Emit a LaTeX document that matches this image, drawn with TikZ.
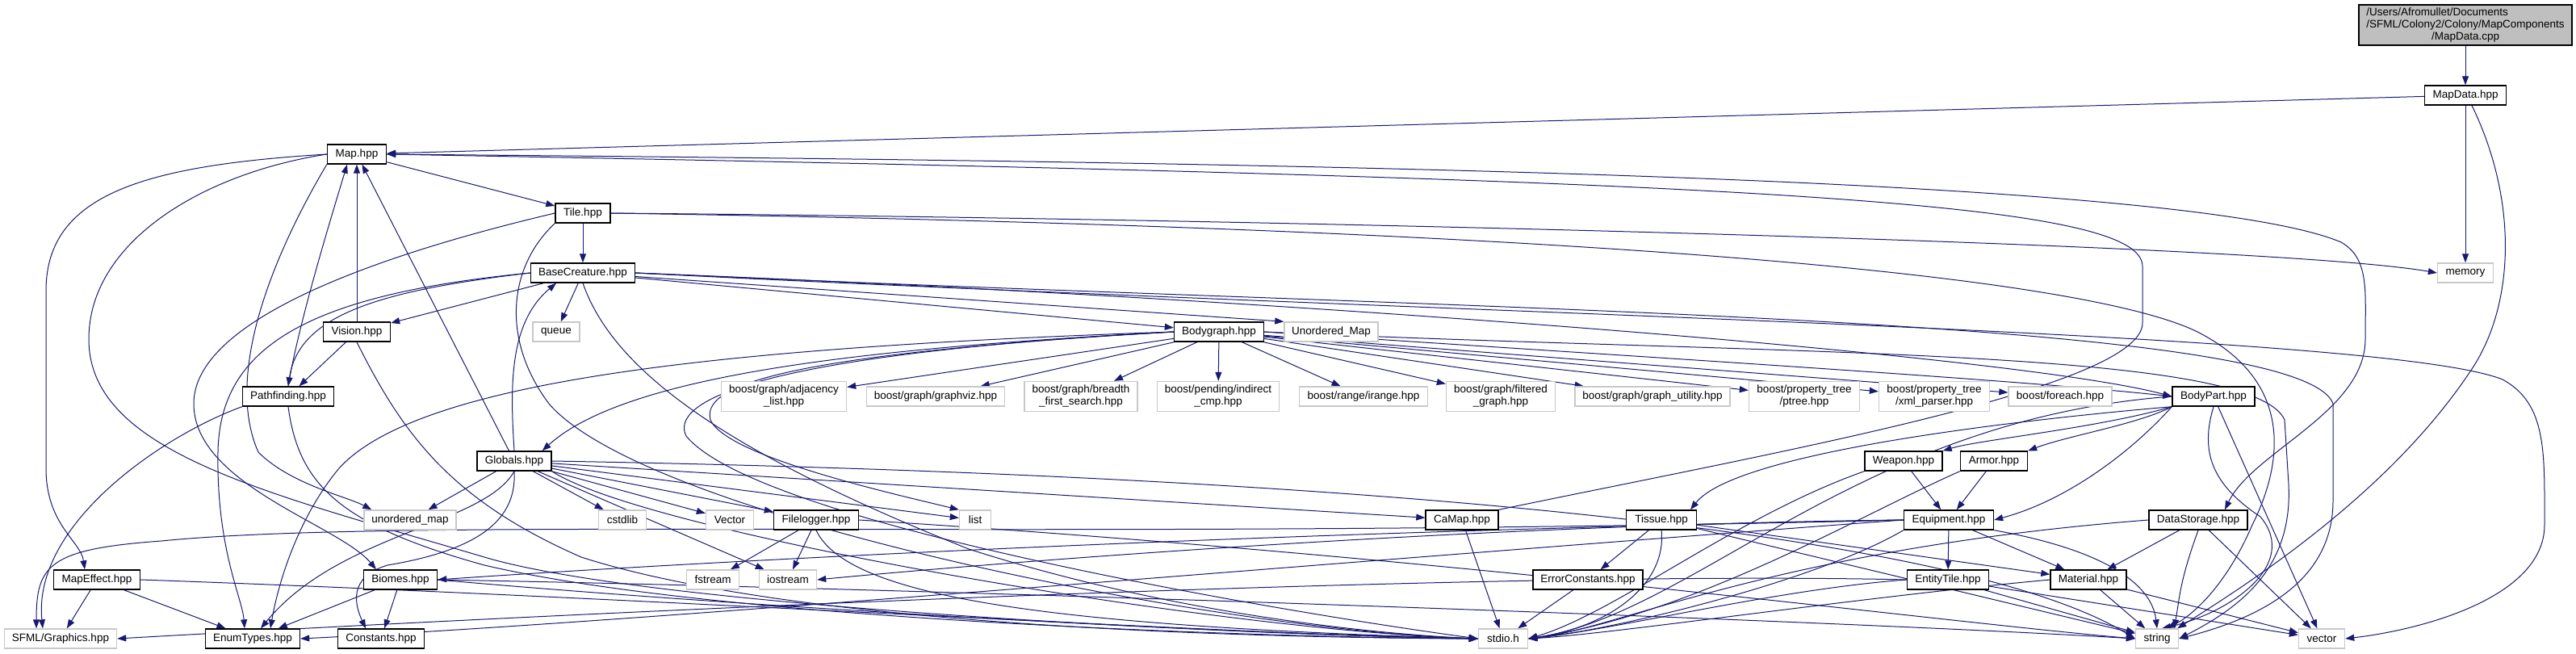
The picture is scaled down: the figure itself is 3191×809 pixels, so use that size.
\documentclass[tikz,border=0pt]{standalone}
\usepackage{fontspec}
\setmainfont{Liberation Sans}
\usetikzlibrary{arrows.meta,calc,backgrounds}
\definecolor{edgeblue}{RGB}{25,25,112}
\definecolor{extgray}{RGB}{200,200,200}
\definecolor{cppfill}{RGB}{191,191,191}
\begin{document}
\begin{tikzpicture}[x=1pt,y=-1pt,
  nodebase/.style={rectangle,minimum height=24pt,inner sep=0pt,font=\fontsize{13.5}{15}\selectfont,align=center},
  docnode/.style={nodebase,draw=black,line width=1.4pt,fill=white},
  extnode/.style={nodebase,draw=extgray,line width=1.4pt,fill=white},
  edgeline/.style={draw=edgeblue,line width=1pt,-{Triangle[length=11pt,width=8pt]}}]
\useasboundingbox (0,0) rectangle (3191,809);

% ---------- nodes ----------
\node[docnode,fill=cppfill,minimum width=264pt,minimum height=50pt] (cpp) at (3054,31)
  {\begin{tabular}{@{}l@{}}/Users/Afromullet/Documents\\/SFML/Colony2/Colony/MapComponents\\\multicolumn{1}{@{}c@{}}{/MapData.cpp}\end{tabular}};
\node[docnode,minimum width=101pt] (mapdata) at (3054,118) {MapData.hpp};
\node[docnode,minimum width=73pt] (map) at (442,191) {Map.hpp};
\node[docnode,minimum width=68pt] (tile) at (722,264) {Tile.hpp};
\node[docnode,minimum width=129pt] (basecreature) at (722,338) {BaseCreature.hpp};
\node[extnode,minimum width=69pt] (memory) at (3054,338) {memory};
\node[docnode,minimum width=83pt] (vision) at (442,411) {Vision.hpp};
\node[extnode,minimum width=58pt] (queue) at (689,411) {queue};
\node[docnode,minimum width=111pt] (bodygraph) at (1510,411) {Bodygraph.hpp};
\node[extnode,minimum width=116pt] (umapB) at (1649,411) {Unordered\_Map};
\node[docnode,minimum width=113pt] (pathfinding) at (357,491) {Pathfinding.hpp};
\node[extnode,minimum width=155pt,minimum height=37pt] (adj) at (971,491) {boost/graph/adjacency\\\_list.hpp};
\node[extnode,minimum width=171pt] (graphviz) at (1159,491) {boost/graph/graphviz.hpp};
\node[extnode,minimum width=140pt,minimum height=37pt] (breadth) at (1339,491) {boost/graph/breadth\\\_first\_search.hpp};
\node[extnode,minimum width=151pt,minimum height=37pt] (indirect) at (1509,491) {boost/pending/indirect\\\_cmp.hpp};
\node[extnode,minimum width=159pt] (irange) at (1689,491) {boost/range/irange.hpp};
\node[extnode,minimum width=135pt,minimum height=37pt] (filtered) at (1859,491) {boost/graph/filtered\\\_graph.hpp};
\node[extnode,minimum width=192pt] (graphutil) at (2047,491) {boost/graph/graph\_utility.hpp};
\node[extnode,minimum width=137pt,minimum height=37pt] (ptree) at (2235,491) {boost/property\_tree\\/ptree.hpp};
\node[extnode,minimum width=137pt,minimum height=37pt] (xml) at (2396,491) {boost/property\_tree\\/xml\_parser.hpp};
\node[extnode,minimum width=128pt] (foreach) at (2552,491) {boost/foreach.hpp};
\node[docnode,minimum width=102pt] (bodypart) at (2742,491) {BodyPart.hpp};
\node[docnode,minimum width=92pt] (globals) at (637,571) {Globals.hpp};
\node[docnode,minimum width=96pt] (weapon) at (2358,571) {Weapon.hpp};
\node[docnode,minimum width=83pt] (armor) at (2470,571) {Armor.hpp};
\node[extnode,minimum width=114pt] (umap) at (508,644) {unordered\_map};
\node[extnode,minimum width=59pt] (cstdlib) at (771,644) {cstdlib};
\node[extnode,minimum width=59pt] (vectorcap) at (904,644) {Vector};
\node[docnode,minimum width=105pt] (filelogger) at (1011,644) {Filelogger.hpp};
\node[extnode,minimum width=39pt] (list) at (1208,644) {list};
\node[docnode,minimum width=90pt] (camap) at (1811,644) {CaMap.hpp};
\node[docnode,minimum width=87pt] (tissue) at (2058,644) {Tissue.hpp};
\node[docnode,minimum width=111pt] (equipment) at (2414,644) {Equipment.hpp};
\node[docnode,minimum width=122pt] (datastorage) at (2723,644) {DataStorage.hpp};
\node[docnode,minimum width=107pt] (mapeffect) at (120,718) {MapEffect.hpp};
\node[docnode,minimum width=91pt] (biomes) at (496,718) {Biomes.hpp};
\node[extnode,minimum width=65pt] (fstream) at (883,718) {fstream};
\node[extnode,minimum width=71pt] (iostream) at (976,718) {iostream};
\node[docnode,minimum width=136pt] (errorconstants) at (1967,718) {ErrorConstants.hpp};
\node[docnode,minimum width=101pt] (entitytile) at (2413,718) {EntityTile.hpp};
\node[docnode,minimum width=94pt] (material) at (2587,718) {Material.hpp};
\node[extnode,minimum width=139pt] (sfml) at (75,791) {SFML/Graphics.hpp};
\node[docnode,minimum width=117pt] (enumtypes) at (313,791) {EnumTypes.hpp};
\node[docnode,minimum width=107pt] (constants) at (472,791) {Constants.hpp};
\node[extnode,minimum width=61pt] (stdio) at (1862,791) {stdio.h};
\node[extnode,minimum width=53pt] (string) at (2672,791) {string};
\node[extnode,minimum width=57pt] (vector) at (2876,791) {vector};

% ---------- edges, behind the boxes ----------
\begin{pgfonlayer}{background}
\fill[white] (0,0) rectangle (3191,809);
\draw[edgeline] (cpp) -- (mapdata);
\draw[edgeline] (mapdata) -- (map);
\draw[edgeline] (mapdata) -- (memory);
\draw[edgeline] ($(mapdata.south)+(8,0)$) .. controls (3120,250) and (3115,380) .. (3060,460) .. controls (2960,610) and (2790,720) .. ($(string.north east)+(-2,0)$);

% Map
\draw[edgeline] (map) -- (tile);
\draw[edgeline] (map.west) .. controls (180,205) and (57,240) .. (57,360) -- (57,580) .. controls (57,650) and (100,670) .. ($(mapeffect.north)+(-15,0)$);
\draw[edgeline] (map.south west) .. controls (330,330) and (280,470) .. (320,560) .. controls (360,600) and (430,615) .. ($(umap.north west)+(10,0)$);
\draw[edgeline] (map.west) .. controls (250,215) and (110,300) .. (110,420) .. controls (110,560) and (330,610) .. (600,690) .. controls (800,750) and (1500,785) .. (stdio.west);
\draw[edgeline] (map.east) .. controls (1500,200) and (2700,215) .. (2900,300) .. controls (2935,320) and (2930,360) .. (2930,420) .. controls (2930,510) and (2790,560) .. ($(datastorage.north)+(33,0)$);
\draw[edgeline] (camap.north east) .. controls (2200,560) and (2654,480) .. (2654,400) -- (2654,330) .. controls (2654,250) and (2200,222) .. (map.east);

% Tile
\draw[edgeline] (tile) -- (basecreature);
\draw[edgeline] (tile.east) .. controls (1500,270) and (2800,300) .. (memory.west);
\draw[edgeline] (tile.east) .. controls (1800,280) and (2550,330) .. (2720,410) .. controls (2840,470) and (2830,570) .. (2790,650) .. controls (2760,720) and (2720,760) .. ($(string.north)+(12,0)$);
\draw[edgeline] (tile.west) .. controls (450,320) and (240,400) .. (240,500) .. controls (240,600) and (420,650) .. ($(biomes.north)+(-30,0)$);
\draw[edgeline] (tile.south west) .. controls (630,330) and (620,420) .. (680,500) .. controls (800,640) and (1500,780) .. (stdio.west);

% BaseCreature
\draw[edgeline] (basecreature) -- (vision);
\draw[edgeline] (basecreature) -- (queue);
\draw[edgeline] (basecreature) -- (bodygraph);
\draw[edgeline] (basecreature) -- (umapB.north west);
\draw[edgeline] (basecreature.west) .. controls (470,360) and (370,390) .. (pathfinding.north);
\draw[edgeline] (basecreature.west) .. controls (380,365) and (272,430) .. (270,560) .. controls (268,680) and (300,740) .. ($(enumtypes.north)+(-10,0)$);
\draw[edgeline] (basecreature.south) .. controls (760,460) and (900,560) .. (1200,680) .. controls (1450,760) and (1700,785) .. (stdio.west);
\draw[edgeline] (basecreature.east) .. controls (1600,370) and (2500,440) .. (bodypart.west);
\draw[edgeline] (basecreature.east) .. controls (1800,385) and (2850,390) .. (2890,500) -- (2890,620) .. controls (2890,720) and (2800,765) .. (string.east);
\draw[edgeline] (basecreature.east) .. controls (1800,390) and (2950,410) .. (3100,470) .. controls (3155,500) and (3152,560) .. (3152,650) .. controls (3152,740) and (3000,780) .. (vector.east);

% Bodygraph
\foreach \t in {adj,graphviz,breadth,indirect,irange,filtered,graphutil,ptree,xml,foreach}
  \draw[edgeline] (bodygraph) -- (\t);
\draw[edgeline] (bodygraph.east) .. controls (2000,440) and (2500,470) .. (bodypart.west);
\draw[edgeline] (bodygraph.west) .. controls (1100,430) and (780,460) .. ($(globals.north east)+(-12,0)$);
\draw[edgeline] (bodygraph.west) .. controls (950,440) and (870,480) .. (880,520) .. controls (900,565) and (1100,610) .. (list.north west);
\draw[edgeline] (bodygraph.west) .. controls (900,430) and (520,470) .. (420,580) .. controls (370,640) and (345,720) .. ($(enumtypes.north)+(22,0)$);
\draw[edgeline] (bodygraph.west) .. controls (920,440) and (830,500) .. (850,540) .. controls (940,650) and (1600,760) .. (stdio.west);
\draw[edgeline] (bodygraph.east) .. controls (2200,440) and (2790,430) .. (2830,520) -- (2835,600) .. controls (2840,700) and (2780,750) .. (string.east);

% Globals
\draw[edgeline] (globals) -- (map);
\draw[edgeline] (globals.north) .. controls (632,480) and (630,400) .. ($(basecreature.south)+(-33,0)$);
\draw[edgeline] (globals) -- (umap);
\draw[edgeline] (globals) -- (cstdlib);
\draw[edgeline] (globals) -- (vectorcap);
\draw[edgeline] (globals) -- (filelogger);
\draw[edgeline] (globals) -- (list);
\draw[edgeline] (globals) -- (camap);
\draw[edgeline] (globals) -- (iostream);
\draw[edgeline] (globals.south) .. controls (600,650) and (420,660) .. ($(enumtypes.north)+(10,0)$);
\draw[edgeline] (globals.south) .. controls (640,640) and (600,680) .. (480,700) .. controls (430,715) and (440,750) .. ($(constants.north)+(-19,0)$);
\draw[edgeline] (globals.south east) .. controls (800,660) and (1500,780) .. (stdio.west);
\draw[edgeline] (globals.east) .. controls (1500,585) and (2400,640) .. (string.west);

% Filelogger
\draw[edgeline] (filelogger) -- (fstream);
\draw[edgeline] (filelogger) -- (iostream);
\draw[edgeline] (filelogger.south) .. controls (1050,740) and (1300,775) .. (stdio.west);
\draw[edgeline] (filelogger.east) .. controls (1800,690) and (2400,770) .. (string.west);

% Pathfinding
\draw[edgeline] (pathfinding.north) .. controls (370,400) and (410,270) .. ($(map.south)+(-12,0)$);
\draw[edgeline] (pathfinding.south west) .. controls (200,540) and (40,650) .. ($(sfml.north)+(-22,0)$);
\draw[edgeline] (pathfinding.south) .. controls (370,600) and (420,650) .. (600,700) .. controls (900,770) and (1600,790) .. (stdio.west);

% Vision
\draw[edgeline] (vision) -- (map);
\draw[edgeline] (vision) -- (pathfinding);
\draw[edgeline] (vision.south) .. controls (500,540) and (560,620) .. (720,690) .. controls (1000,780) and (1600,790) .. (stdio.west);

% MapEffect
\draw[edgeline] (mapeffect) -- (sfml);
\draw[edgeline] (mapeffect) -- (enumtypes);
\draw[edgeline] (mapeffect.east) .. controls (800,740) and (1500,785) .. (stdio.west);

% Biomes
\draw[edgeline] (biomes) -- (enumtypes);
\draw[edgeline] (biomes) -- (constants);
\draw[edgeline] (biomes.east) .. controls (900,750) and (1500,785) .. (stdio.west);
\draw[edgeline] (biomes.east) .. controls (1200,730) and (2300,770) .. (string.west);

% CaMap, Tissue, ErrorConstants
\draw[edgeline] (camap) -- (stdio);
\draw[edgeline] (tissue) -- (errorconstants);
\draw[edgeline] (tissue.south) .. controls (2065,720) and (2000,775) .. (stdio.east);
\draw[edgeline] (tissue) -- (material);
\draw[edgeline] (tissue) -- (string);
\draw[edgeline] (errorconstants) -- (stdio);

% Weapon, Armor
\draw[edgeline] (weapon) -- (equipment);
\draw[edgeline] (armor) -- (equipment);
\draw[edgeline] (weapon.south west) .. controls (2150,640) and (2000,760) .. (stdio.east);
\draw[edgeline] (armor.south west) .. controls (2300,640) and (2100,760) .. (stdio.east);

% BodyPart
\draw[edgeline] (bodypart.south west) .. controls (2600,530) and (2450,545) .. (weapon.north east);
\draw[edgeline] (bodypart.south west) .. controls (2650,525) and (2560,540) .. (armor.north east);
\draw[edgeline] (bodypart.south west) .. controls (2500,520) and (2150,560) .. ($(tissue.north)+(36,0)$);
\draw[edgeline] (bodypart.south west) .. controls (2640,560) and (2560,620) .. (equipment.east);
\draw[edgeline] (bodypart) -- (vector);
\draw[edgeline] (bodypart.south) .. controls (2725,560) and (2740,600) .. (2800,640) .. controls (2850,700) and (2760,760) .. ($(string.north)+(6,0)$);
\draw[edgeline] (bodypart.west) .. controls (2300,520) and (2100,760) .. (stdio.east);

% Equipment
\draw[edgeline] (equipment) -- (entitytile);
\draw[edgeline] (equipment) -- (material);
\draw[edgeline] (equipment.south east) .. controls (2600,680) and (2665,720) .. (string.north);
\draw[edgeline] (equipment.south west) .. controls (2250,720) and (2000,780) .. (stdio.east);
\draw[edgeline] (equipment.west) .. controls (1500,660) and (800,700) .. (biomes.east);
\draw[edgeline] (equipment.west) .. controls (1800,650) and (1200,700) .. (iostream.east);
\draw[edgeline] (equipment.west) .. controls (1300,670) and (500,640) .. (200,670) .. controls (60,680) and (45,700) .. ($(sfml.north)+(-30,0)$);
\draw[edgeline] (equipment.west) .. controls (1600,700) and (800,770) .. (enumtypes.east);

% EntityTile
\draw[edgeline] (entitytile.west) .. controls (1800,705) and (600,765) .. (sfml.east);
\draw[edgeline] (entitytile.west) .. controls (2200,730) and (2000,780) .. (stdio.east);
\draw[edgeline] (entitytile) -- (string);
\draw[edgeline] (entitytile) -- (vector);

% Material
\draw[edgeline] (material) -- (string);
\draw[edgeline] (material) -- (vector);
\draw[edgeline] (material.west) .. controls (2300,740) and (2000,785) .. (stdio.east);

% DataStorage
\draw[edgeline] (datastorage) -- (material);
\draw[edgeline] (datastorage.south) .. controls (2700,720) and (2700,740) .. ($(string.north east)+(-6,0)$);
\draw[edgeline] (datastorage) -- (vector);
\draw[edgeline] (datastorage.west) .. controls (2200,680) and (2000,780) .. (stdio.east);
\end{pgfonlayer}
\end{tikzpicture}
\end{document}
